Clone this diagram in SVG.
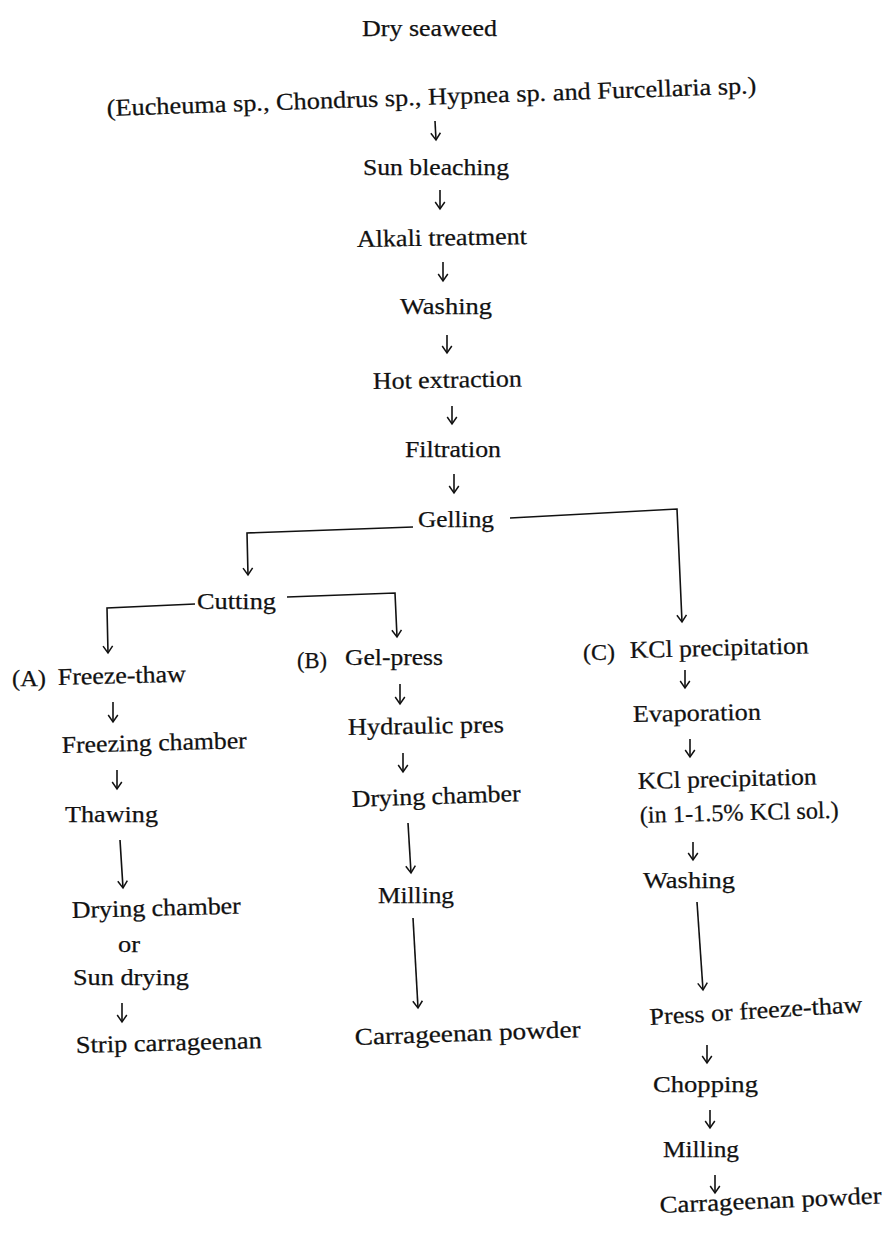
<svg xmlns="http://www.w3.org/2000/svg" width="896" height="1234" viewBox="0 0 896 1234">
<style>
  text { font-family: "Liberation Serif", "Times New Roman", serif; font-size: 24px; fill: #111; stroke: #111; stroke-width: 0.25; }
  .c { fill: none; stroke: #111; stroke-width: 1.6; }
  .a { marker-end: url(#arr); }
</style>
<defs>
  <marker id="arr" viewBox="-1 -6 10 12" markerUnits="userSpaceOnUse" markerWidth="10" markerHeight="12" refX="7" refY="0" orient="auto" overflow="visible">
    <path d="M0,-4.8 L7,0 L0,4.8" fill="none" stroke="#111" stroke-width="1.5"/>
  </marker>
</defs>
<rect width="896" height="1234" fill="#fff"/>

<g id="connectors">
  <line class="c a" x1="435" y1="121" x2="436" y2="140"/>
  <line class="c a" x1="440" y1="190" x2="440" y2="209"/>
  <line class="c a" x1="443" y1="262" x2="443" y2="281"/>
  <line class="c a" x1="447" y1="335" x2="447" y2="353"/>
  <line class="c a" x1="452" y1="406" x2="452" y2="424"/>
  <line class="c a" x1="454" y1="474" x2="454" y2="493"/>
  <polyline class="c a" points="413,527 247,533 248,575"/>
  <polyline class="c a" points="510,518 677,509 682,622"/>
  <polyline class="c a" points="195,604 107,608 108,653"/>
  <polyline class="c a" points="287,597 395,593 397,637"/>
  <line class="c a" x1="113" y1="702" x2="113" y2="722"/>
  <line class="c a" x1="117" y1="770" x2="117" y2="789"/>
  <line class="c a" x1="120" y1="840" x2="123" y2="888"/>
  <line class="c a" x1="122" y1="1003" x2="122" y2="1022"/>
  <line class="c a" x1="400" y1="684" x2="400" y2="704"/>
  <line class="c a" x1="403" y1="753" x2="403" y2="772"/>
  <line class="c a" x1="408" y1="823" x2="411" y2="873"/>
  <line class="c a" x1="413" y1="918" x2="418" y2="1008"/>
  <line class="c a" x1="685" y1="670" x2="685" y2="688"/>
  <line class="c a" x1="690" y1="739" x2="690" y2="757"/>
  <line class="c a" x1="693" y1="842" x2="693" y2="860"/>
  <line class="c a" x1="697" y1="902" x2="703" y2="990"/>
  <line class="c a" x1="707" y1="1045" x2="707" y2="1063"/>
  <line class="c a" x1="710" y1="1110" x2="710" y2="1128"/>
  <line class="c a" x1="715" y1="1175" x2="715" y2="1193"/>
</g>

<g id="n-dry"><text x="362" y="36" textLength="135" lengthAdjust="spacingAndGlyphs">Dry seaweed</text></g>
<g id="n-species"><text x="107" y="116" textLength="650" lengthAdjust="spacingAndGlyphs" transform="rotate(-2 107 116)">(Eucheuma sp., Chondrus sp., Hypnea sp. and Furcellaria sp.)</text></g>
<g id="n-sun"><text x="363" y="175" textLength="146" lengthAdjust="spacingAndGlyphs">Sun bleaching</text></g>
<g id="n-alkali"><text x="357" y="247" textLength="170" lengthAdjust="spacingAndGlyphs" transform="rotate(-1 357 247)">Alkali treatment</text></g>
<g id="n-wash1"><text x="400" y="314" textLength="92" lengthAdjust="spacingAndGlyphs">Washing</text></g>
<g id="n-hot"><text x="373" y="389" textLength="149" lengthAdjust="spacingAndGlyphs" transform="rotate(-1 373 389)">Hot extraction</text></g>
<g id="n-filt"><text x="405" y="457" textLength="96" lengthAdjust="spacingAndGlyphs">Filtration</text></g>
<g id="n-gel"><text x="418" y="527" textLength="76" lengthAdjust="spacingAndGlyphs">Gelling</text></g>
<g id="n-cut"><text x="197" y="609" textLength="79" lengthAdjust="spacingAndGlyphs">Cutting</text></g>

<g id="n-a1"><text x="12" y="686" textLength="34" lengthAdjust="spacingAndGlyphs">(A)</text><text x="58" y="685" textLength="128" lengthAdjust="spacingAndGlyphs" transform="rotate(-1.5 58 685)">Freeze-thaw</text></g>
<g id="n-a2"><text x="62" y="753" textLength="185" lengthAdjust="spacingAndGlyphs" transform="rotate(-1.5 62 753)">Freezing chamber</text></g>
<g id="n-a3"><text x="65" y="822" textLength="93" lengthAdjust="spacingAndGlyphs">Thawing</text></g>
<g id="n-a4"><text x="72" y="918" textLength="169" lengthAdjust="spacingAndGlyphs" transform="rotate(-1.5 72 918)">Drying chamber</text><text x="118" y="952" textLength="22" lengthAdjust="spacingAndGlyphs">or</text><text x="73" y="985" textLength="116" lengthAdjust="spacingAndGlyphs">Sun drying</text></g>
<g id="n-a5"><text x="76" y="1053" textLength="186" lengthAdjust="spacingAndGlyphs" transform="rotate(-1.5 76 1053)">Strip carrageenan</text></g>

<g id="n-b1"><text x="297" y="668" textLength="30" lengthAdjust="spacingAndGlyphs">(B)</text><text x="345" y="665" textLength="98" lengthAdjust="spacingAndGlyphs">Gel-press</text></g>
<g id="n-b2"><text x="348" y="735" textLength="156" lengthAdjust="spacingAndGlyphs" transform="rotate(-1 348 735)">Hydraulic pres</text></g>
<g id="n-b3"><text x="352" y="807" textLength="169" lengthAdjust="spacingAndGlyphs" transform="rotate(-2 352 807)">Drying chamber</text></g>
<g id="n-b4"><text x="378" y="903" textLength="76" lengthAdjust="spacingAndGlyphs">Milling</text></g>
<g id="n-b5"><text x="355" y="1045" textLength="226" lengthAdjust="spacingAndGlyphs" transform="rotate(-2 355 1045)">Carrageenan powder</text></g>

<g id="n-c1"><text x="583" y="660" textLength="32" lengthAdjust="spacingAndGlyphs">(C)</text><text x="630" y="658" textLength="179" lengthAdjust="spacingAndGlyphs" transform="rotate(-1.5 630 658)">KCl precipitation</text></g>
<g id="n-c2"><text x="633" y="722" textLength="128" lengthAdjust="spacingAndGlyphs" transform="rotate(-1 633 722)">Evaporation</text></g>
<g id="n-c3"><text x="638" y="789" textLength="179" lengthAdjust="spacingAndGlyphs" transform="rotate(-1.5 638 789)">KCl precipitation</text><text x="640" y="823" textLength="199" lengthAdjust="spacingAndGlyphs" transform="rotate(-1.5 640 823)">(in 1-1.5% KCl sol.)</text></g>
<g id="n-c4"><text x="643" y="888" textLength="92" lengthAdjust="spacingAndGlyphs">Washing</text></g>
<g id="n-c5"><text x="650" y="1025" textLength="213" lengthAdjust="spacingAndGlyphs" transform="rotate(-3.5 650 1025)">Press or freeze-thaw</text></g>
<g id="n-c6"><text x="653" y="1092" textLength="105" lengthAdjust="spacingAndGlyphs">Chopping</text></g>
<g id="n-c7"><text x="663" y="1157" textLength="76" lengthAdjust="spacingAndGlyphs">Milling</text></g>
<g id="n-c8"><text x="660" y="1213" textLength="222" lengthAdjust="spacingAndGlyphs" transform="rotate(-2.5 660 1213)">Carrageenan powder</text></g>
</svg>
